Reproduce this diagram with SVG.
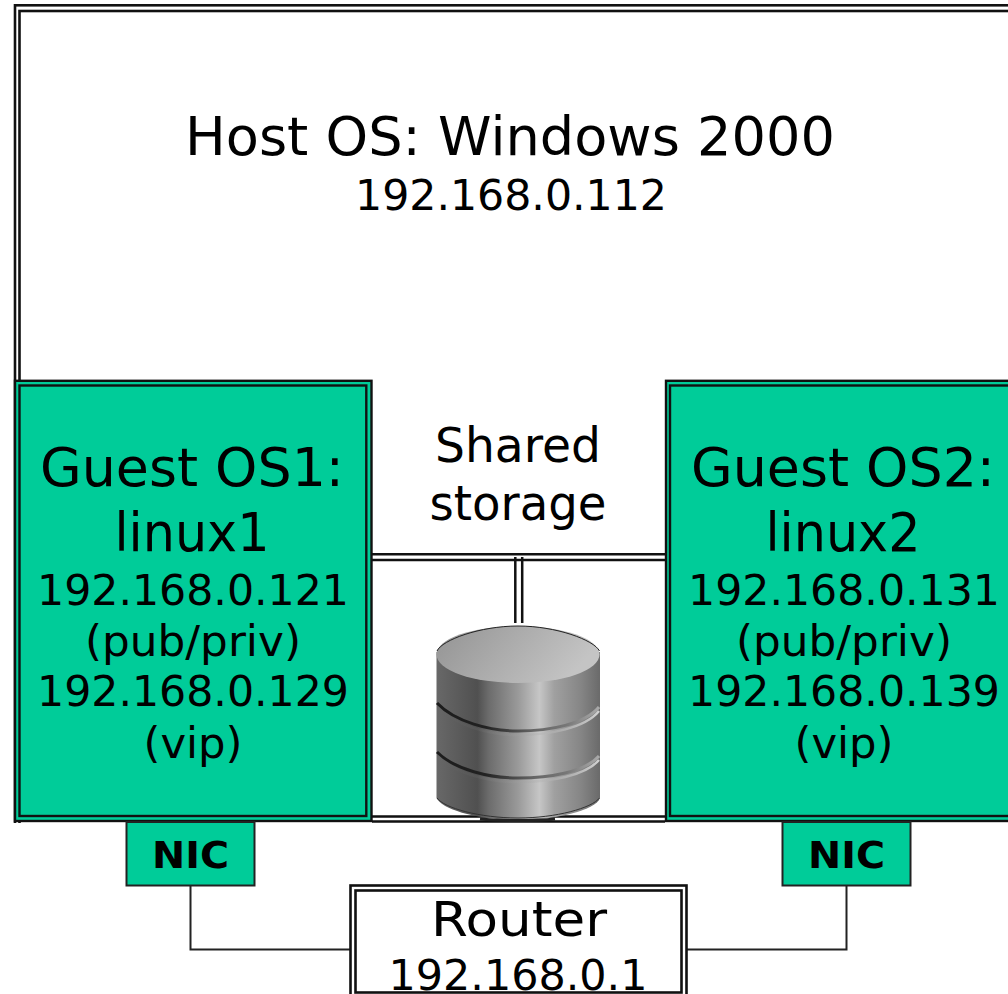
<svg xmlns="http://www.w3.org/2000/svg" width="1008" height="994" viewBox="0 0 1008 994">
<style>
text{font-family:"DejaVu Sans","Liberation Sans",sans-serif;fill:#000;text-anchor:middle}
.l{fill:none;stroke:#111;stroke-width:2.500}
.c{fill:none;stroke:#222;stroke-width:2}
.g{fill:#00cc99;stroke:#111;stroke-width:2.400}
.b{fill:#00cc99;stroke:#222;stroke-width:2}
.t{font-size:54px}.m{font-size:43px}.s{font-size:48px}
.n{font-size:38px;font-weight:bold}
.w{fill:#fff;stroke:#111;stroke-width:2.600}
</style>
<defs>
<linearGradient id="side" x1="0" x2="1" y1="0" y2="0">
<stop offset="0" stop-color="#686868"/><stop offset=".25" stop-color="#505050"/><stop offset=".32" stop-color="#6c6c6c"/><stop offset=".5" stop-color="#9a9a9a"/><stop offset=".63" stop-color="#c6c6c6"/><stop offset=".72" stop-color="#a0a0a0"/><stop offset=".88" stop-color="#868686"/><stop offset="1" stop-color="#6a6a6a"/>
</linearGradient>
<linearGradient id="top" x1="0" x2="1" y1="0" y2="0.3">
<stop offset="0" stop-color="#939393"/><stop offset="1" stop-color="#c4c4c4"/>
</linearGradient>
<linearGradient id="groove" x1="0" x2="1" y1="0" y2="0">
<stop offset="0" stop-color="#1c1c1c"/><stop offset=".3" stop-color="#222"/><stop offset=".6" stop-color="#666"/><stop offset=".8" stop-color="#777"/><stop offset="1" stop-color="#aaa"/>
</linearGradient>
<linearGradient id="shine" x1="0" x2="1" y1="0" y2="0">
<stop offset="0" stop-color="#666" stop-opacity="0"/><stop offset=".6" stop-color="#aaa" stop-opacity=".3"/><stop offset="1" stop-color="#ddd" stop-opacity=".9"/>
</linearGradient>
</defs>
<g id="host">
<rect class="w" x="15" y="5.300" width="1010" height="1010"/>
<rect class="w" x="19.500" y="11" width="1010" height="1010"/>
<text x="510" y="155" class="t" textLength="650" lengthAdjust="spacingAndGlyphs">Host OS: Windows 2000</text>
<text x="511" y="210" class="m" textLength="312" lengthAdjust="spacingAndGlyphs">192.168.0.112</text>
</g>
<g id="white-bottom"><rect x="0" y="823" width="1008" height="171" fill="#fff"/></g>
<g id="storage">
<text x="518" y="462" class="s" textLength="166" lengthAdjust="spacingAndGlyphs">Shared</text>
<text x="518" y="520" class="s" textLength="177" lengthAdjust="spacingAndGlyphs">storage</text>
<path class="l" d="M372 554.300H665M372 560H665M372 816.500H665M372 821.500H665M515.300 557V623M522.200 557V623"/>
<path d="M436.500 652V798C442 810 480 820 518 820C556 820 596 810 600 798V652Z" fill="url(#side)"/>
<path d="M437 798C444 808 480 818 518 818C556 818 592 808 599.500 798" fill="none" stroke="#333" stroke-width="1"/>
<path d="M480 819C500 821 535 821 555 819" fill="none" stroke="#222" stroke-width="3"/>
<ellipse cx="518" cy="654.500" rx="81.500" ry="28.500" fill="url(#top)"/>
<path d="M437 651C442 640 480 626 518 626C556 626 594 640 599.500 651" fill="none" stroke="#222" stroke-width="1"/>
<path d="M437 707C455 726 490 735 518 735C550 735 585 728 599 711" fill="none" stroke="url(#shine)" stroke-width="2.500"/>
<path d="M437 703C455 722 490 731 518 731C550 731 585 724 599 707" fill="none" stroke="url(#groove)" stroke-width="3"/>
<path d="M437 756C455 774 490 782 518 782C550 782 585 776 599 760" fill="none" stroke="url(#shine)" stroke-width="2.500"/>
<path d="M437 752C455 770 490 778 518 778C550 778 585 772 599 756" fill="none" stroke="url(#groove)" stroke-width="3"/>
</g>
<g id="guest1">
<rect class="g" x="15" y="380.800" width="356.500" height="440.200"/>
<rect class="g" x="19.500" y="385.500" width="346.800" height="430.500"/>
<text x="192" y="486" class="t" textLength="304" lengthAdjust="spacingAndGlyphs">Guest OS1:</text>
<text x="192" y="551" class="t" textLength="155" lengthAdjust="spacingAndGlyphs">linux1</text>
<text x="193" y="605" class="m" textLength="312" lengthAdjust="spacingAndGlyphs">192.168.0.121</text>
<text x="193" y="656" class="m" textLength="216" lengthAdjust="spacingAndGlyphs">(pub/priv)</text>
<text x="193" y="706" class="m" textLength="312" lengthAdjust="spacingAndGlyphs">192.168.0.129</text>
<text x="193" y="758" class="m" textLength="99" lengthAdjust="spacingAndGlyphs">(vip)</text>
</g>
<g id="guest2">
<rect class="g" x="666" y="380.800" width="356" height="440.200"/>
<rect class="g" x="670" y="385.500" width="346.500" height="430.500"/>
<text x="843" y="486" class="t" textLength="304" lengthAdjust="spacingAndGlyphs">Guest OS2:</text>
<text x="843" y="551" class="t" textLength="155" lengthAdjust="spacingAndGlyphs">linux2</text>
<text x="844" y="605" class="m" textLength="312" lengthAdjust="spacingAndGlyphs">192.168.0.131</text>
<text x="844" y="656" class="m" textLength="216" lengthAdjust="spacingAndGlyphs">(pub/priv)</text>
<text x="844" y="706" class="m" textLength="312" lengthAdjust="spacingAndGlyphs">192.168.0.139</text>
<text x="844" y="758" class="m" textLength="99" lengthAdjust="spacingAndGlyphs">(vip)</text>
</g>
<g id="connectors">
<path class="c" d="M190.500 886V949.500H350M846.500 886V949.500H687"/>
</g>
<g id="nic1"><rect class="b" x="126.500" y="822" width="128" height="63.500"/><text x="190.500" y="868" class="n" textLength="77" lengthAdjust="spacingAndGlyphs">NIC</text></g>
<g id="nic2"><rect class="b" x="782.500" y="822" width="128" height="63.500"/><text x="846.500" y="868" class="n" textLength="77" lengthAdjust="spacingAndGlyphs">NIC</text></g>
<g id="router">
<rect class="w" x="350.500" y="885.500" width="336" height="130"/>
<rect class="w" x="355.500" y="890.500" width="326" height="102"/>
<text x="519" y="936" class="s" textLength="176" lengthAdjust="spacingAndGlyphs">Router</text>
<text x="518" y="990" class="m" textLength="259" lengthAdjust="spacingAndGlyphs">192.168.0.1</text>
</g>
</svg>
